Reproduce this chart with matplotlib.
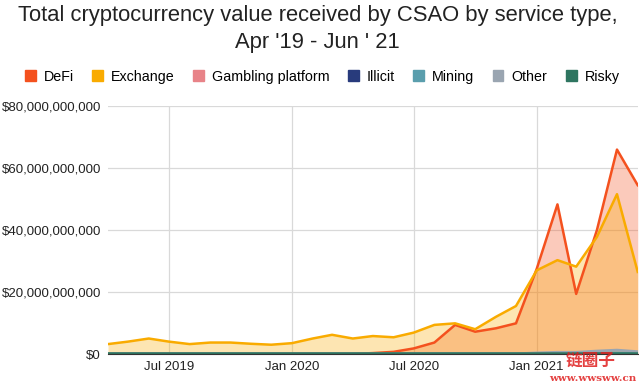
import matplotlib
matplotlib.use('Agg')
import matplotlib.pyplot as plt
import matplotlib.patches as mpatches
import matplotlib.dates as mdates
import numpy as np
from datetime import date

plt.rcParams['font.family'] = ['Liberation Sans', 'DejaVu Sans']

# monthly data, Apr 2019 - Jun 2021 (billions USD)
months = [date(2019 + (3 + i) // 12, (3 + i) % 12 + 1, 1) for i in range(27)]

exchange = [3.2, 4.0, 5.0, 4.0, 3.2, 3.7, 3.7, 3.3, 3.0, 3.5, 5.0, 6.2, 5.0, 5.8, 5.4,
            6.9, 9.4, 9.9, 8.0, 12.0, 15.5, 27.0, 30.3, 28.2, 37.8, 51.6, 26.5]
defi = [0, 0, 0, 0, 0, 0, 0, 0, 0, 0, 0, 0, 0, 0.3, 0.7,
        1.8, 3.7, 9.4, 7.2, 8.3, 9.9, 27.5, 48.3, 19.4, 40.0, 66.0, 54.5]
gambling = [0.05] * 27
illicit = [0.05] * 27
mining = [0.1] * 21 + [0.2, 0.3, 0.3, 0.4, 0.4, 0.3]
other = [0.1] * 21 + [0.4, 0.6, 0.6, 1.0, 1.3, 0.8]
risky = [0.3] * 27

series = [
    ("DeFi", defi, "#F4511E"),
    ("Exchange", exchange, "#F9AB00"),
    ("Gambling platform", gambling, "#E88388"),
    ("Illicit", illicit, "#283B7C"),
    ("Mining", mining, "#5A9EAD"),
    ("Other", other, "#9AA5B1"),
    ("Risky", risky, "#2E7560"),
]

fig = plt.figure(figsize=(6.39, 3.83), dpi=100)
ax = fig.add_axes([0.169, 0.0757, 0.829, 0.647])

x = mdates.date2num(months)
for name, vals, col in series:
    v = np.array(vals) * 1e9
    ax.fill_between(x, 0, v, color=col, alpha=0.3, linewidth=0)
    ax.plot(x, v, color=col, linewidth=1.8)

ax.set_xlim(x[0], x[-1])
ax.set_ylim(0, 80e9)
ax.set_yticks(np.arange(0, 81e9, 20e9))
ax.yaxis.set_major_formatter(plt.FuncFormatter(lambda v, p: "${:,.0f}".format(v)))
ax.xaxis.set_major_locator(mdates.MonthLocator(bymonth=[1, 7]))
ax.xaxis.set_major_formatter(mdates.DateFormatter("%b %Y"))
ax.tick_params(length=0, labelsize=9.5, colors="#222222", pad=5)
ax.grid(True, color="#d9d9d9", linewidth=0.9)
ax.set_axisbelow(True)
for s in ["top", "right", "left"]:
    ax.spines[s].set_visible(False)
ax.spines["bottom"].set_color("#333333")

fig.text(0.497, 0.96, "Total cryptocurrency value received by CSAO by service type,",
         ha="center", va="center", fontsize=15.8, color="#222222")
fig.text(0.497, 0.89, "Apr '19 - Jun ' 21",
         ha="center", va="center", fontsize=15.8, color="#222222")

handles = [mpatches.Patch(color=c, label=n) for n, _, c in series]
fig.legend(handles=handles, loc="center left", bbox_to_anchor=(0.03, 0.80), ncol=7,
           frameon=False, fontsize=10.3, handlelength=0.75, handleheight=0.8,
           handletextpad=0.55, columnspacing=1.3, borderaxespad=0)

fig.text(0.925, 0.045, "链圈子", color="#e02020", fontsize=12, fontweight="bold",
         family=["Noto Sans CJK SC", "DejaVu Sans"], ha="center", alpha=0.85)
fig.text(0.996, 0.005, "www.wwsww.cn", color="#e02020", fontsize=7.5, fontweight="bold",
         family=["DejaVu Serif"], ha="right", alpha=0.85)

fig.savefig("out.png", dpi=100)
